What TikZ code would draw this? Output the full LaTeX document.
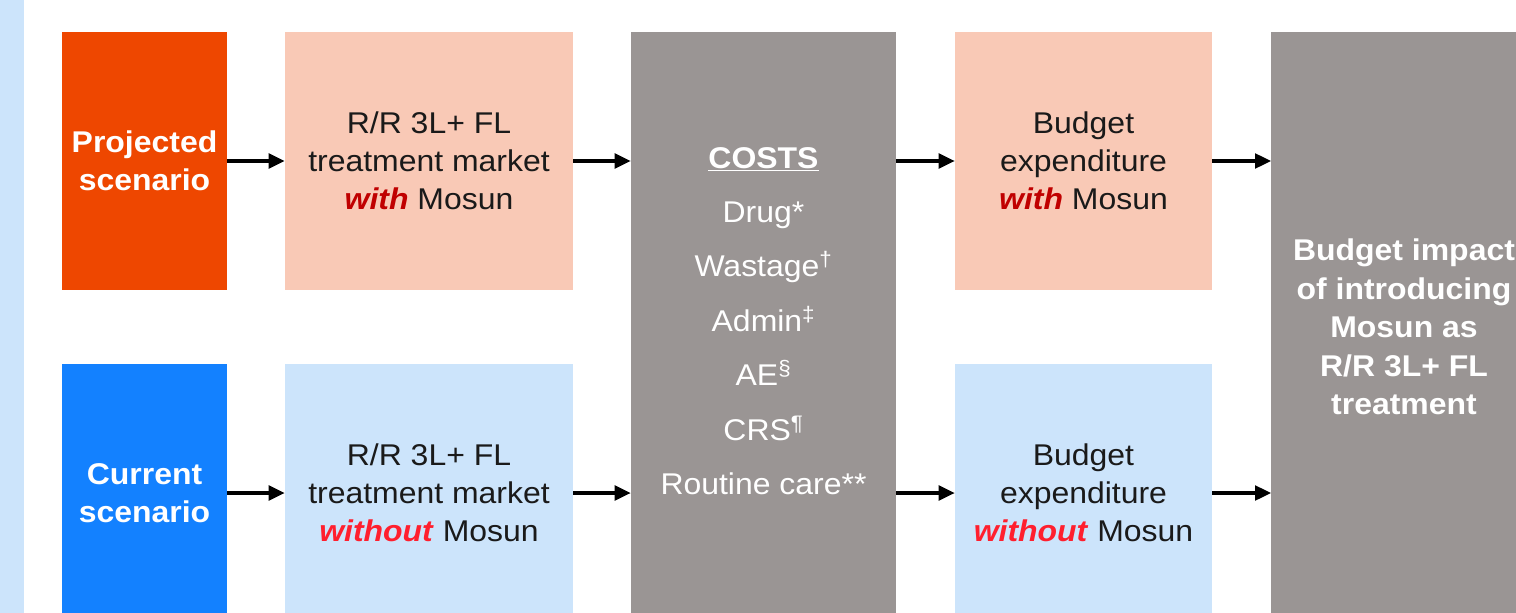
\documentclass[tikz,border=0pt]{standalone}
\usepackage{fontspec}
\setmainfont[FakeStretch=1.065]{Liberation Sans}
\usetikzlibrary{arrows.meta}

\definecolor{projred}{HTML}{EE4700}
\definecolor{curblue}{HTML}{1381FF}
\definecolor{peach}{HTML}{F9C9B6}
\definecolor{paleblue}{HTML}{CCE4FB}
\definecolor{costgrey}{HTML}{9A9594}
\definecolor{withred}{HTML}{C00000}
\definecolor{withoutred}{HTML}{FF1F2E}
\definecolor{ink}{HTML}{1A1A1A}

\tikzset{
  box/.style={inner sep=0pt, align=center, text=ink,
    font=\fontsize{22.5}{28.5}\selectfont},
  scenario/.style={box, minimum width=123.75pt, minimum height=193.5pt,
    text=white, font=\fontsize{22.5}{28.5}\selectfont\bfseries},
  market/.style={box, minimum width=216pt, minimum height=193.5pt},
  budget/.style={box, minimum width=192.75pt, minimum height=193.5pt},
  tall/.style={box, fill=costgrey, minimum width=199pt, minimum height=442.5pt,
    text=white},
  arr/.style={line width=2.4pt, -{Triangle[length=12pt,width=11pt]}}
}
\newcommand{\withtext}{\textcolor{withred}{\textbf{\textit{with}}}}
\newcommand{\withouttext}{\textcolor{withoutred}{\textbf{\textit{without}}}}

\begin{document}
\begin{tikzpicture}[x=0.75pt, y=-0.75pt]
  \useasboundingbox (0,0) rectangle (1516,613);
  \clip (0,0) rectangle (1516,613);

  % strip on the left edge
  \fill[paleblue] (0,0) rectangle (24,613);

  % projected scenario row
  \node[scenario, fill=projred] (proj) at (144.5,161) {Projected\\scenario};
  \node[market, fill=peach] (mktA) at (429,161)
    {R/R 3L+ FL\\treatment market\\\withtext{} Mosun};
  \node[budget, fill=peach] (budA) at (1083.5,161)
    {Budget\\expenditure\\\withtext{} Mosun};

  % current scenario row
  \node[scenario, fill=curblue] (cur) at (144.5,493) {Current\\scenario};
  \node[market, fill=paleblue] (mktB) at (429,493)
    {R/R 3L+ FL\\treatment market\\\withouttext{} Mosun};
  \node[budget, fill=paleblue] (budB) at (1083.5,493)
    {Budget\\expenditure\\\withouttext{} Mosun};

  % cost block in the middle
  \node[tall, minimum width=198.75pt] (costs) at (763.5,327) {};
  \node[box, text=white, font=\fontsize{22.5}{40.8}\selectfont] (costlist) at (763.5,321)
    {\textbf{\underline{COSTS}}\\Drug*\\Wastage\textsuperscript{†}\\Admin\textsuperscript{‡}\\
     AE\textsuperscript{§}\\CRS\textsuperscript{¶}\\Routine care**};

  % result
  \node[tall, font=\fontsize{22.5}{28.9}\selectfont\bfseries] (impact) at (1404,327)
    {Budget impact\\of introducing\\Mosun as\\R/R 3L+ FL\\treatment};

  % arrows
  \draw[arr] (proj.east) -- (mktA.west);
  \draw[arr] (cur.east) -- (mktB.west);
  \draw[arr] (mktA.east) -- (mktA.east -| costs.west);
  \draw[arr] (mktB.east) -- (mktB.east -| costs.west);
  \draw[arr] (costs.east |- budA.west) -- (budA.west);
  \draw[arr] (costs.east |- budB.west) -- (budB.west);
  \draw[arr] (budA.east) -- (budA.east -| impact.west);
  \draw[arr] (budB.east) -- (budB.east -| impact.west);
\end{tikzpicture}
\end{document}
